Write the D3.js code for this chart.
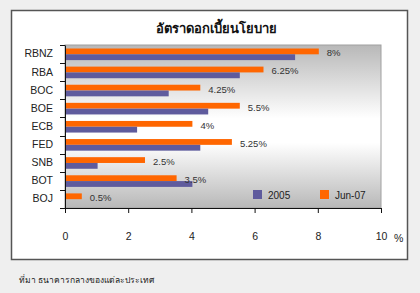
<!DOCTYPE html>
<html>
<head>
<meta charset="utf-8">
<script src="https://cdn.jsdelivr.net/npm/d3@7"></script>
<style>
  body { margin: 0; background: #efefef; font-family: "Liberation Sans", Arial, sans-serif; }
  svg { display: block; }
</style>
</head>
<body>
<div id="chart"></div>
<script>
// ข้อมูลอัตราดอกเบี้ย
const banks = ['RBNZ', 'RBA', 'BOC', 'BOE', 'ECB', 'FED', 'SNB', 'BOT', 'BOJ'];
const rate2005 = [7.25, 5.5, 3.25, 4.5, 2.25, 4.25, 1.0, 4.0, 0];
const rateJun07 = [8, 6.25, 4.25, 5.5, 4, 5.25, 2.5, 3.5, 0.5];
const rateLabels = ['8%', '6.25%', '4.25%', '5.5%', '4%', '5.25%', '2.5%', '3.5%', '0.5%'];
const xTicks = [0, 2, 4, 6, 8, 10];
const seriesNames = ['2005', 'Jun-07'];

const W = 420, H = 293;
const plot = { left: 65, right: 381, top: 45, bottom: 208 };

const svg = d3.select('#chart').append('svg')
  .attr('width', W)
  .attr('height', H);

// กรอบพื้นหลัง
svg.append('rect')
  .attr('x', 11.5).attr('y', 10.5)
  .attr('width', 396).attr('height', 249)
  .attr('fill', '#fff')
  .attr('stroke', '#555')
  .attr('stroke-width', 1.5);

// gradient ของพื้นที่กราฟ
const defs = svg.append('defs');
const grad = defs.append('linearGradient')
  .attr('id', 'bg').attr('x1', 0).attr('y1', 0).attr('x2', 0).attr('y2', 1);
grad.append('stop').attr('offset', '0%').attr('stop-color', '#b8b8b8');
grad.append('stop').attr('offset', '45%').attr('stop-color', '#ffffff');
grad.append('stop').attr('offset', '60%').attr('stop-color', '#ffffff');
grad.append('stop').attr('offset', '100%').attr('stop-color', '#b8b8b8');

svg.append('rect')
  .attr('x', plot.left).attr('y', plot.top)
  .attr('width', plot.right - plot.left)
  .attr('height', plot.bottom - plot.top)
  .attr('fill', 'url(#bg)')
  .attr('stroke', '#a0a0a0')
  .attr('stroke-width', 1);

// ชื่อกราฟ
svg.append('text')
  .attr('x', 216).attr('y', 33)
  .attr('text-anchor', 'middle')
  .style('font-family', '"Noto Sans", "DejaVu Sans", sans-serif')
  .style('font-size', '13px')
  .style('font-weight', 'bold')
  .style('fill', '#111')
  .text('อัตราดอกเบี้ยนโยบาย');

// สเกล
const x = d3.scaleLinear().domain([0, 10]).range([plot.left, plot.right]);
const y = d3.scaleBand().domain(banks).range([plot.top, plot.bottom]);
const sub = d3.scaleBand().domain(['Jun-07', '2005']).range([3.5, y.bandwidth() - 3]);

const colors = { '2005': '#5f5b9d', 'Jun-07': '#ff6600' };

// แกน x
const xAxis = svg.append('g')
  .attr('transform', `translate(0,${plot.bottom})`)
  .call(d3.axisBottom(x).tickValues(xTicks).tickSize(5).tickPadding(20).tickSizeOuter(0));
xAxis.select('.domain').attr('stroke', '#111');
xAxis.selectAll('line').attr('stroke', '#111');
xAxis.selectAll('text')
  .style('font-size', '10.5px')
  .style('fill', '#222')
  .style('font-family', '"Liberation Sans", Arial, sans-serif');

svg.append('text')
  .attr('x', 394).attr('y', 242)
  .style('font-size', '10.5px')
  .style('fill', '#222')
  .text('%');

// แกน y
const yAxis = svg.append('g')
  .attr('transform', `translate(${plot.left},0)`)
  .call(d3.axisLeft(y).tickSize(0).tickPadding(12));
yAxis.select('.domain').attr('stroke', '#111');
yAxis.selectAll('text')
  .style('font-size', '10.5px')
  .style('fill', '#222')
  .style('font-family', '"Liberation Sans", Arial, sans-serif');

// เส้นแบ่งหมวด
svg.append('g').selectAll('line')
  .data(banks.concat(['end']))
  .enter().append('line')
  .attr('x1', plot.left - 5).attr('x2', plot.left)
  .attr('y1', (d, i) => Math.round(plot.top + i * y.step()) + 0.5)
  .attr('y2', (d, i) => Math.round(plot.top + i * y.step()) + 0.5)
  .attr('stroke', '#111');

// แท่งกราฟ
const rows = banks.map((b, i) => ({ bank: b, v2005: rate2005[i], vJun: rateJun07[i], label: rateLabels[i] }));

svg.append('g').selectAll('rect')
  .data(rows)
  .enter().append('rect')
  .attr('x', x(0) + 1)
  .attr('y', d => y(d.bank) + sub('Jun-07'))
  .attr('width', d => x(d.vJun) - x(0))
  .attr('height', sub.bandwidth())
  .attr('fill', colors['Jun-07']);

svg.append('g').selectAll('rect')
  .data(rows)
  .enter().append('rect')
  .attr('x', x(0) + 1)
  .attr('y', d => y(d.bank) + sub('2005'))
  .attr('width', d => Math.max(0, x(d.v2005) - x(0)))
  .attr('height', sub.bandwidth())
  .attr('fill', colors['2005']);

// ป้ายค่า
svg.append('g').selectAll('text')
  .data(rows)
  .enter().append('text')
  .attr('x', d => x(d.vJun) + 9)
  .attr('y', d => y(d.bank) + 8)
  .attr('dy', '0.35em')
  .style('font-size', '9.5px')
  .style('fill', '#333')
  .text(d => d.label);

// คำอธิบาย
const legend = svg.append('g').attr('transform', 'translate(253,190)');
seriesNames.forEach((s, i) => {
  const g = legend.append('g').attr('transform', `translate(${i * 67},0)`);
  g.append('rect').attr('width', 9).attr('height', 9).attr('fill', colors[s]);
  g.append('text')
    .attr('x', 15).attr('y', 8.5)
    .style('font-size', '10px')
    .style('fill', '#222')
    .text(s);
});

// ที่มา
svg.append('text')
  .attr('x', 19).attr('y', 283)
  .style('font-family', '"Noto Sans", "DejaVu Sans", sans-serif')
  .style('font-size', '8.5px')
  .style('fill', '#222')
  .text('ที่มา ธนาคารกลางของแต่ละประเทศ');
</script>
</body>
</html>
